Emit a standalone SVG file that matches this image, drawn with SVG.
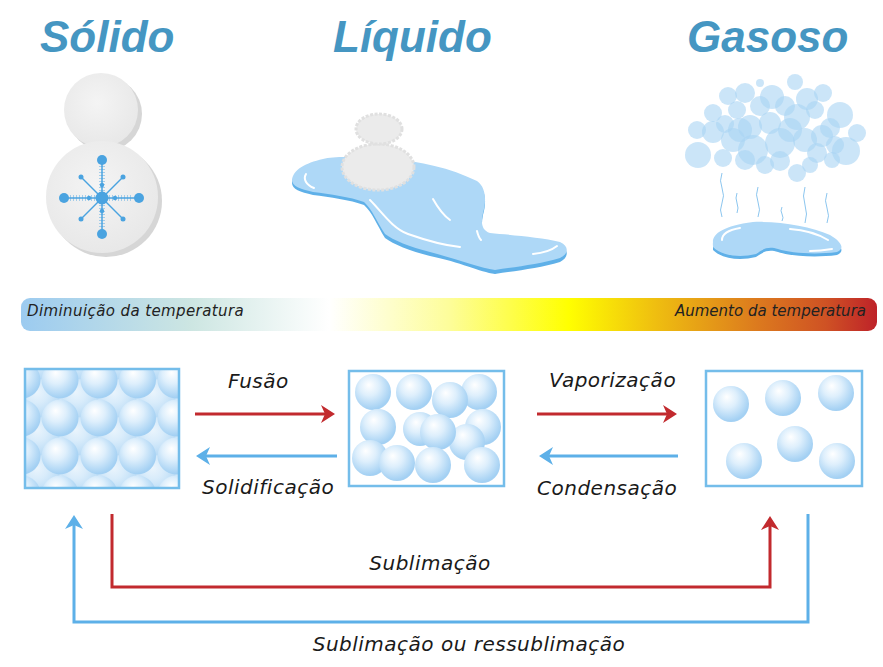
<svg xmlns="http://www.w3.org/2000/svg" width="883" height="667" viewBox="0 0 883 667">
<style>
.title{font-family:"Liberation Sans",Arial,sans-serif;font-weight:bold;font-style:italic;font-size:44px;fill:#4596c2}
.lbl{font-family:"DejaVu Sans",Verdana,sans-serif;font-style:italic;font-size:20px;fill:#1a1a1a;letter-spacing:0.5px}
.bar{font-family:"DejaVu Sans",Verdana,sans-serif;font-style:italic;font-size:15px;fill:#222}
.box{fill:none;stroke:#74bdea;stroke-width:2.5}
.ball{fill:url(#bg)}
.bball{fill:url(#bg);opacity:0.55}
.red{fill:none;stroke:#c22a2e;stroke-width:3}
.blue{fill:none;stroke:#5db0e8;stroke-width:3}
.bub{fill:#a9d3f4;opacity:0.6}
.steam{fill:none;stroke:#8cc6ef;stroke-width:1}
.hl{fill:none;stroke:#ffffff;stroke-width:2;stroke-linecap:round}
.ice{fill:#ebebeb;stroke:#e0e0e0;stroke-width:3;stroke-dasharray:3 1.5}
</style>
<defs>
<radialGradient id="bg" cx="0.42" cy="0.38" r="0.6" fx="0.38" fy="0.3">
<stop offset="0" stop-color="#ffffff"/>
<stop offset="0.45" stop-color="#deeffc"/>
<stop offset="1" stop-color="#a3d0f3"/>
</radialGradient>
<linearGradient id="tg" x1="21" y1="0" x2="877" y2="0" gradientUnits="userSpaceOnUse">
<stop offset="0" stop-color="#9ccbf0"/>
<stop offset="0.2" stop-color="#cde6e2"/>
<stop offset="0.36" stop-color="#ffffff"/>
<stop offset="0.5" stop-color="#fdfd9a"/>
<stop offset="0.64" stop-color="#ffff00"/>
<stop offset="0.74" stop-color="#efbf10"/>
<stop offset="0.86" stop-color="#dc7a1e"/>
<stop offset="0.94" stop-color="#cf5224"/>
<stop offset="1" stop-color="#be2229"/>
</linearGradient>
<radialGradient id="sg" cx="0.45" cy="0.4" r="0.6">
<stop offset="0" stop-color="#f4f4f4"/>
<stop offset="1" stop-color="#e8e8e8"/>
</radialGradient>
<clipPath id="c1"><rect x="25" y="369" width="154" height="119"/></clipPath>
<clipPath id="c2"><rect x="349" y="371" width="155" height="115"/></clipPath>
<marker id="mr" markerUnits="userSpaceOnUse" markerWidth="16" markerHeight="20" refX="8" refY="10" orient="auto">
<path d="M0,1 L14,10 L0,19 L4,10 z" fill="#c22a2e"/>
</marker>
<marker id="mb" markerUnits="userSpaceOnUse" markerWidth="16" markerHeight="20" refX="8" refY="10" orient="auto">
<path d="M0,1 L14,10 L0,19 L4,10 z" fill="#5db0e8"/>
</marker>
</defs>
<rect width="883" height="667" fill="#ffffff"/>

<g id="titles">
<text class="title" x="40" y="52">Sólido</text>
<text class="title" x="333" y="52">Líquido</text>
<text class="title" x="687" y="52">Gasoso</text>
</g>

<g id="solid-illustration">
<circle cx="105" cy="114" r="37" fill="#d6d6d6"/>
<circle cx="101" cy="110" r="37" fill="url(#sg)"/>
<circle cx="106" cy="201" r="56" fill="#d6d6d6"/>
<circle cx="102" cy="197" r="56" fill="url(#sg)"/>
<g stroke="#4aa3e0" fill="#4aa3e0">
<g stroke-width="1.5">
<line x1="102" y1="160" x2="102" y2="234"/>
<line x1="64" y1="198" x2="139" y2="198"/>
<line x1="81" y1="177" x2="123" y2="219"/>
<line x1="123" y1="177" x2="81" y2="219"/>
</g>
<g stroke-width="6" stroke-dasharray="1 2" opacity="0.45">
<line x1="102" y1="166" x2="102" y2="228"/>
<line x1="70" y1="198" x2="133" y2="198"/>
</g>
<g stroke="none">
<circle cx="102" cy="198" r="6.5"/>
<circle cx="102" cy="160" r="5"/>
<circle cx="102" cy="234" r="5"/>
<circle cx="64" cy="198" r="5"/>
<circle cx="139" cy="198" r="5"/>
<circle cx="81" cy="177" r="2.5"/>
<circle cx="123" cy="177" r="2.5"/>
<circle cx="81" cy="219" r="2.5"/>
<circle cx="123" cy="219" r="2.5"/>
<circle cx="102" cy="185" r="2.2"/>
<circle cx="102" cy="211" r="2.2"/>
<circle cx="89" cy="198" r="2.2"/>
<circle cx="115" cy="198" r="2.2"/>
</g>
</g>
</g>

<g id="liquid-illustration">
<path d="M292,183 C293,172 305,164 323,160 C335,157 360,158 390,160 C420,162 450,170 477,183 C487,190 486,205 483,215 C481,225 481,233 490,236 C510,238 540,240 560,245 C570,250 568,258 560,262 C540,268 515,271 495,274 C480,272 460,262 430,256 C410,251 393,244 385,238 C377,225 372,212 364,205 C350,200 330,197 313,195 C300,192 292,189 292,183 Z" fill="#5fb0e8"/>
<path d="M292,180 C293,170 305,163 323,159 C335,156 360,157 390,159 C420,161 450,168 477,181 C487,188 486,203 483,213 C481,222 481,230 490,233 C510,235 540,237 560,242 C570,247 568,254 560,258 C540,264 515,267 495,270 C480,268 460,260 430,252 C410,247 393,240 385,234 C377,222 372,209 364,202 C350,197 330,194 313,192 C300,189 292,186 292,180 Z" fill="#aed8f7"/>
<path class="hl" d="M306,174 C303,179 306,185 314,188"/>
<path class="hl" d="M370,200 C382,212 392,228 408,234 C425,240 440,245 460,247"/>
<path class="hl" d="M433,199 C438,208 443,215 450,220"/>
<path class="hl" d="M477,231 C478,235 479,238 481,240"/>
<path class="hl" d="M533,254 C543,253 552,250 557,246"/>
<ellipse class="ice" cx="378" cy="167" rx="36" ry="23"/>
<ellipse class="ice" cx="379" cy="129" rx="23" ry="15"/>
</g>

<g id="gas-illustration">
<path class="steam" d="M722,173 q-3,8 0,15 q3,8 0,15 q-3,7 0,14"/>
<path class="steam" d="M737,193 q-2,5 0,10 q2,5 0,10"/>
<path class="steam" d="M758,187 q-3,8 0,15 q3,8 0,15"/>
<path class="steam" d="M782,207 q-2,4 0,7 q2,4 0,7"/>
<path class="steam" d="M805,187 q-3,9 0,18 q3,9 0,18"/>
<path class="steam" d="M827,193 q-3,8 0,15 q3,8 0,15"/>
<path d="M713,246 C712,236 723,227 753,223 C780,222 810,228 830,238 C842,245 845,252 837,255 C815,258 790,256 778,252 C768,249 763,252 756,257 C740,261 722,259 713,250 Z" fill="#5fb0e8"/>
<path d="M713,243 C712,234 723,226 753,222 C780,221 810,226 830,235 C842,242 845,249 837,252 C815,255 790,253 778,249 C768,246 763,249 756,254 C740,258 722,256 713,247 Z" fill="#aed8f7"/>
<path class="hl" stroke-width="1.3" d="M722,240 C722,234 728,230 740,228"/>
<path class="hl" stroke-width="1.3" d="M790,229 C805,230 818,234 828,240"/>
<path class="hl" stroke-width="1.3" d="M810,251 C818,251 826,250 832,249"/>
<g>
<circle class="bub" cx="698" cy="155" r="13"/>
<circle class="bub" cx="697" cy="130" r="9"/>
<circle class="bub" cx="713" cy="113" r="9"/>
<circle class="bub" cx="713" cy="132" r="11"/>
<circle class="bub" cx="728" cy="96" r="9"/>
<circle class="bub" cx="745" cy="93" r="10"/>
<circle class="bub" cx="760" cy="83" r="4"/>
<circle class="bub" cx="772" cy="97" r="12"/>
<circle class="bub" cx="795" cy="82" r="8"/>
<circle class="bub" cx="807" cy="99" r="11"/>
<circle class="bub" cx="823" cy="93" r="9"/>
<circle class="bub" cx="840" cy="115" r="13"/>
<circle class="bub" cx="857" cy="133" r="9"/>
<circle class="bub" cx="846" cy="151" r="14"/>
<circle class="bub" cx="822" cy="136" r="11"/>
<circle class="bub" cx="797" cy="117" r="13"/>
<circle class="bub" cx="780" cy="143" r="15"/>
<circle class="bub" cx="753" cy="150" r="15"/>
<circle class="bub" cx="733" cy="140" r="12"/>
<circle class="bub" cx="723" cy="158" r="9"/>
<circle class="bub" cx="750" cy="127" r="12"/>
<circle class="bub" cx="770" cy="123" r="11"/>
<circle class="bub" cx="737" cy="110" r="9"/>
<circle class="bub" cx="797" cy="173" r="9"/>
<circle class="bub" cx="780" cy="161" r="10"/>
<circle class="bub" cx="817" cy="153" r="10"/>
<circle class="bub" cx="760" cy="106" r="10"/>
<circle class="bub" cx="805" cy="140" r="12"/>
<circle class="bub" cx="832" cy="160" r="8"/>
<circle class="bub" cx="765" cy="165" r="9"/>
<circle class="bub" cx="740" cy="130" r="12"/>
<circle class="bub" cx="790" cy="130" r="12"/>
<circle class="bub" cx="830" cy="128" r="10"/>
<circle class="bub" cx="725" cy="124" r="9"/>
<circle class="bub" cx="785" cy="106" r="10"/>
<circle class="bub" cx="815" cy="110" r="9"/>
<circle class="bub" cx="745" cy="160" r="10"/>
<circle class="bub" cx="835" cy="145" r="9"/>
<circle class="bub" cx="810" cy="165" r="8"/>
</g>
</g>

<g id="temperature-bar">
<rect x="21" y="298" width="856" height="33" rx="9" fill="url(#tg)"/>
<text class="bar" x="27" y="316" letter-spacing="0.4">Diminuição da temperatura</text>
<text class="bar" x="866" y="316" text-anchor="end">Aumento da temperatura</text>
</g>

<g id="solid-box">
<rect x="25" y="369" width="154" height="119" fill="#d2e8f9"/>
<g clip-path="url(#c1)">
<circle class="bball" cx="41" cy="361" r="18.5"/><circle class="bball" cx="80" cy="361" r="18.5"/><circle class="bball" cx="118" cy="361" r="18.5"/><circle class="bball" cx="157" cy="361" r="18.5"/>
<circle class="bball" cx="41" cy="399" r="18.5"/><circle class="bball" cx="80" cy="399" r="18.5"/><circle class="bball" cx="118" cy="399" r="18.5"/><circle class="bball" cx="157" cy="399" r="18.5"/>
<circle class="bball" cx="41" cy="437" r="18.5"/><circle class="bball" cx="80" cy="437" r="18.5"/><circle class="bball" cx="118" cy="437" r="18.5"/><circle class="bball" cx="157" cy="437" r="18.5"/>
<circle class="bball" cx="41" cy="475" r="18.5"/><circle class="bball" cx="80" cy="475" r="18.5"/><circle class="bball" cx="118" cy="475" r="18.5"/><circle class="bball" cx="157" cy="475" r="18.5"/>
<circle class="ball" cx="22" cy="380" r="18.5"/><circle class="ball" cx="60" cy="380" r="18.5"/><circle class="ball" cx="99" cy="380" r="18.5"/><circle class="ball" cx="137.5" cy="380" r="18.5"/><circle class="ball" cx="176" cy="380" r="18.5"/>
<circle class="ball" cx="22" cy="418" r="18.5"/><circle class="ball" cx="60" cy="418" r="18.5"/><circle class="ball" cx="99" cy="418" r="18.5"/><circle class="ball" cx="137.5" cy="418" r="18.5"/><circle class="ball" cx="176" cy="418" r="18.5"/>
<circle class="ball" cx="22" cy="456" r="18.5"/><circle class="ball" cx="60" cy="456" r="18.5"/><circle class="ball" cx="99" cy="456" r="18.5"/><circle class="ball" cx="137.5" cy="456" r="18.5"/><circle class="ball" cx="176" cy="456" r="18.5"/>
<circle class="ball" cx="22" cy="494" r="18.5"/><circle class="ball" cx="60" cy="494" r="18.5"/><circle class="ball" cx="99" cy="494" r="18.5"/><circle class="ball" cx="137.5" cy="494" r="18.5"/><circle class="ball" cx="176" cy="494" r="18.5"/>
</g>
<rect class="box" x="25" y="369" width="154" height="119"/>
</g>

<g id="liquid-box">
<g clip-path="url(#c2)">
<circle class="ball" cx="373" cy="392" r="18"/>
<circle class="ball" cx="414" cy="392" r="18"/>
<circle class="ball" cx="479" cy="392" r="18"/>
<circle class="ball" cx="450" cy="400" r="18"/>
<circle class="ball" cx="378" cy="427" r="18"/>
<circle class="ball" cx="483" cy="427" r="18"/>
<circle class="ball" cx="420" cy="429" r="17"/>
<circle class="ball" cx="467" cy="442" r="18"/>
<circle class="ball" cx="438" cy="432" r="18"/>
<circle class="ball" cx="370" cy="458" r="18"/>
<circle class="ball" cx="397" cy="463" r="18"/>
<circle class="ball" cx="433" cy="465" r="18"/>
<circle class="ball" cx="482" cy="465" r="18"/>
</g>
<rect class="box" x="349" y="371" width="155" height="115"/>
</g>

<g id="gas-box">
<circle class="ball" cx="731" cy="404" r="18"/>
<circle class="ball" cx="783" cy="398" r="18"/>
<circle class="ball" cx="836" cy="393" r="18"/>
<circle class="ball" cx="744" cy="461" r="18"/>
<circle class="ball" cx="795" cy="444" r="18"/>
<circle class="ball" cx="837" cy="461" r="18"/>
<rect class="box" x="706" y="371" width="156" height="115"/>
</g>

<g id="connectors">
<line class="red" x1="195" y1="414" x2="329" y2="414" marker-end="url(#mr)"/>
<line class="blue" x1="337" y1="456" x2="202" y2="456" marker-end="url(#mb)"/>
<line class="red" x1="537" y1="414" x2="671" y2="414" marker-end="url(#mr)"/>
<line class="blue" x1="678" y1="456" x2="545" y2="456" marker-end="url(#mb)"/>
<path class="red" d="M112,514 V587 H770 V522" marker-end="url(#mr)"/>
<path class="blue" d="M808,514 V622 H74 V521" marker-end="url(#mb)"/>
</g>

<g id="labels">
<text class="lbl" x="228" y="388">Fusão</text>
<text class="lbl" x="202" y="494">Solidificação</text>
<text class="lbl" x="549" y="387">Vaporização</text>
<text class="lbl" x="537" y="495">Condensação</text>
<text class="lbl" x="430" y="570" text-anchor="middle">Sublimação</text>
<text class="lbl" x="469" y="651" text-anchor="middle" letter-spacing="0.2">Sublimação ou ressublimação</text>
</g>
</svg>
